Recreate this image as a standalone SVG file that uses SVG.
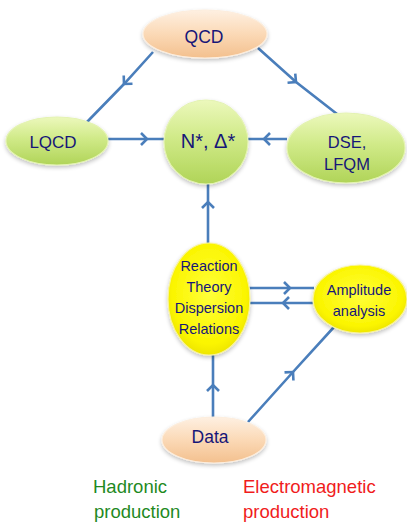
<svg xmlns="http://www.w3.org/2000/svg" width="407" height="523" viewBox="0 0 407 523">
<defs>
<style>
.lbl{font-family:"Liberation Sans",Arial,sans-serif;fill:#161678;text-anchor:middle}
.conn{fill:none;stroke:#4a7ebb;stroke-width:2.6;marker-mid:url(#chev)}
.green{fill:url(#gGreen);stroke:#e4f3b2;stroke-width:1.2;filter:url(#sh)}
.peach{fill:url(#gPeach);stroke:#fdeede;stroke-width:1.2;filter:url(#sh)}
.yellow{fill:url(#gYellow);stroke:#f8f39a;stroke-width:1.2;filter:url(#sh)}
.foot{font-family:"Liberation Sans",Arial,sans-serif;font-size:18.5px}
</style>
<linearGradient id="gGreen" x1="0" y1="0" x2="0" y2="1">
<stop offset="0" stop-color="#ecf8bc"/>
<stop offset="0.45" stop-color="#d0ea88"/>
<stop offset="1" stop-color="#b0d458"/>
</linearGradient>
<linearGradient id="gPeach" x1="0" y1="0" x2="0" y2="1">
<stop offset="0" stop-color="#fef0e2"/>
<stop offset="0.5" stop-color="#fbd9b6"/>
<stop offset="1" stop-color="#f3c08e"/>
</linearGradient>
<radialGradient id="gYellow" cx="0.5" cy="0.45" r="0.6">
<stop offset="0" stop-color="#ffff3a"/>
<stop offset="0.75" stop-color="#fbf500"/>
<stop offset="1" stop-color="#e8de00"/>
</radialGradient>
<filter id="sh" x="-20%" y="-20%" width="140%" height="150%">
<feGaussianBlur in="SourceAlpha" stdDeviation="2"/>
<feOffset dx="0" dy="2" result="b"/>
<feComponentTransfer><feFuncA type="linear" slope="0.25"/></feComponentTransfer>
<feMerge><feMergeNode/><feMergeNode in="SourceGraphic"/></feMerge>
</filter>
<marker id="chev" viewBox="-10 -10 20 20" markerWidth="20" markerHeight="20" markerUnits="userSpaceOnUse" orient="auto" refX="0" refY="0">
<path d="M -6 -6 L 0 0 L -6 6" fill="none" stroke="#4a7ebb" stroke-width="2.6" stroke-linejoin="miter"/>
</marker>
</defs>
<rect width="407" height="523" fill="#ffffff"/>

<g id="connectors">
<path class="conn" d="M 153 52 L 124 84 L 87 122"/>
<path class="conn" d="M 258 48 L 296 82 L 337 114"/>
<path class="conn" d="M 108 139 L 147 139 L 164 139"/>
<path class="conn" d="M 287 139 L 264 139 L 248 139"/>
<path class="conn" d="M 208 244 L 208 202 L 208 184"/>
<path class="conn" d="M 249 288 L 290 288 L 314 288"/>
<path class="conn" d="M 314 303 L 283 303 L 250 303"/>
<path class="conn" d="M 213 418 L 213 385 L 213 355"/>
<path class="conn" d="M 248 422 L 293 372 L 334 327"/>
</g>

<g id="node-qcd">
<ellipse class="peach" cx="205" cy="34" rx="62" ry="24"/>
<text class="lbl" x="204" y="43" font-size="17.5">QCD</text>
</g>

<g id="node-lqcd">
<ellipse class="green" cx="57" cy="141" rx="51" ry="24"/>
<text class="lbl" x="53" y="148" font-size="17">LQCD</text>
</g>

<g id="node-nstar">
<circle class="green" cx="206" cy="142" r="42"/>
<text class="lbl" x="208" y="148" font-size="20">N*, Δ*</text>
</g>

<g id="node-dse">
<ellipse class="green" cx="346" cy="148" rx="59" ry="35"/>
<text class="lbl" x="347" y="148" font-size="16.5">DSE,</text>
<text class="lbl" x="347" y="170" font-size="16.5">LFQM</text>
</g>

<g id="node-reaction">
<ellipse class="yellow" cx="209" cy="299" rx="41" ry="56"/>
<text class="lbl" x="209" y="271" font-size="14.5">Reaction</text>
<text class="lbl" x="209" y="292" font-size="14.5">Theory</text>
<text class="lbl" x="209" y="313" font-size="14.5">Dispersion</text>
<text class="lbl" x="209" y="334" font-size="14.5">Relations</text>
</g>

<g id="node-amplitude">
<ellipse class="yellow" cx="360" cy="299" rx="47" ry="34"/>
<text class="lbl" x="359" y="295" font-size="14.5">Amplitude</text>
<text class="lbl" x="359" y="316" font-size="14.5">analysis</text>
</g>

<g id="node-data">
<ellipse class="peach" cx="214" cy="440" rx="52" ry="23"/>
<text class="lbl" x="210" y="443" font-size="17.5">Data</text>
</g>

<g id="labels">
<text class="foot" x="93" y="493" fill="#1f8a1f">Hadronic</text>
<text class="foot" x="94" y="518" fill="#1f8a1f">production</text>
<text class="foot" x="243" y="493" fill="#f01c1c">Electromagnetic</text>
<text class="foot" x="243" y="518" fill="#f01c1c">production</text>
</g>
</svg>
